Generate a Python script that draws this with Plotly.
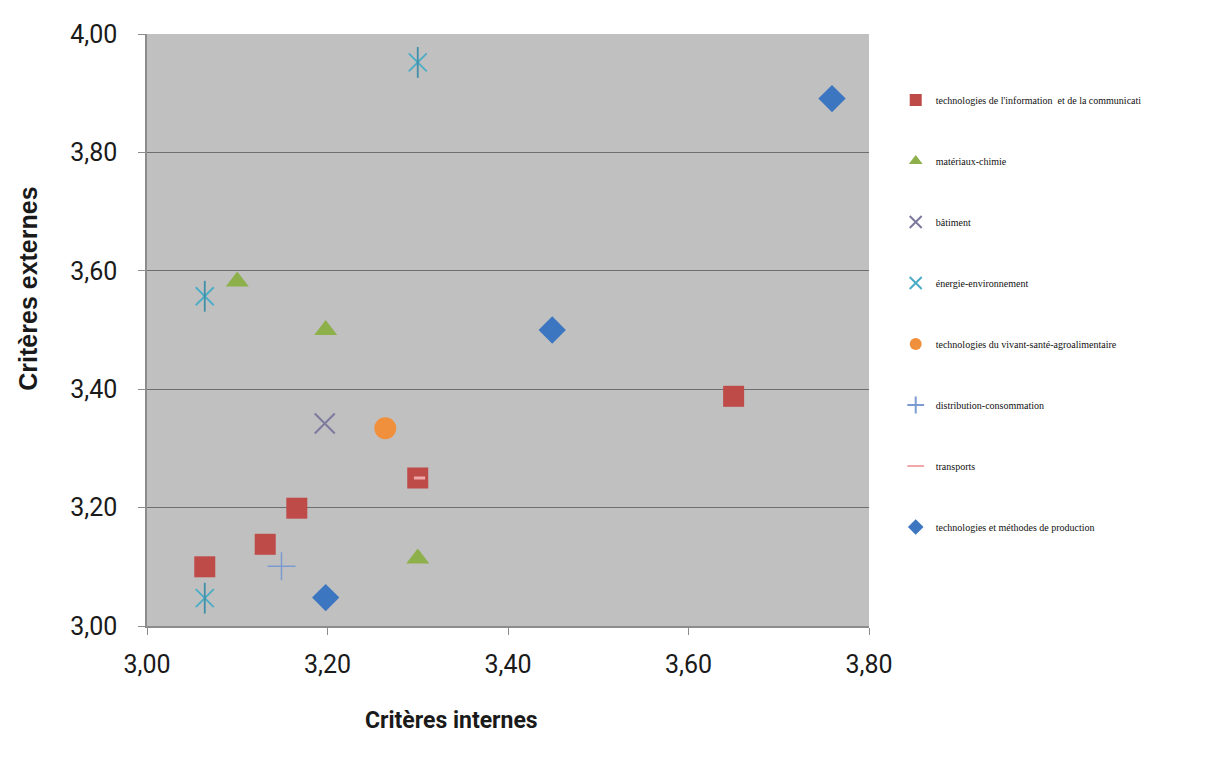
import plotly.graph_objects as go

# Data (Critères internes, Critères externes)
tic_x = [3.064, 3.131, 3.166, 3.300, 3.650]
tic_y = [3.100, 3.138, 3.199, 3.250, 3.388]
mat_x = [3.100, 3.198, 3.300]
mat_y = [3.582, 3.500, 3.114]
bat_x = [3.197]
bat_y = [3.342]
ener_x = [3.300, 3.064, 3.064]
ener_y = [3.952, 3.557, 3.047]
viv_x = [3.264]
viv_y = [3.334]
dist_x = [3.149]
dist_y = [3.101]
trans_x = [3.302]
trans_y = [3.250]
prod_x = [3.759, 3.449, 3.198]
prod_y = [3.891, 3.500, 3.048]

names = [
    "technologies de l'information  et de la communicati",
    "matériaux-chimie",
    "bâtiment",
    "énergie-environnement",
    "technologies du vivant-santé-agroalimentaire",
    "distribution-consommation",
    "transports",
    "technologies et méthodes de production",
]

fig = go.Figure()
fig.add_trace(go.Scatter(x=tic_x, y=tic_y, mode="markers", name=names[0], legendgroup="g1",
                         marker=dict(symbol="square", size=21, color="#be4b48")))
fig.add_trace(go.Scatter(x=mat_x, y=mat_y, mode="markers", name=names[1], legendgroup="g2",
                         marker=dict(symbol="triangle-up", size=20, color="#8db04a")))
fig.add_trace(go.Scatter(x=bat_x, y=bat_y, mode="markers", name=names[2], legendgroup="g3",
                         marker=dict(symbol="x-thin-open", size=20, color="#7d7a9e",
                                     line=dict(color="#7d7a9e", width=2))))
fig.add_trace(go.Scatter(x=ener_x, y=ener_y, mode="markers", name=names[3], legendgroup="g4",
                         marker=dict(symbol="x-thin-open", size=18, color="#4bacc6",
                                     line=dict(color="#4bacc6", width=1.8))))
fig.add_trace(go.Scatter(x=ener_x, y=ener_y, mode="markers", name=names[3], legendgroup="g4",
                         showlegend=False, hoverinfo="skip",
                         marker=dict(symbol="line-ns-open", size=22, color="#3f8fa8",
                                     line=dict(color="#3f8fa8", width=1.8))))
fig.add_trace(go.Scatter(x=viv_x, y=viv_y, mode="markers", name=names[4], legendgroup="g5",
                         marker=dict(symbol="circle", size=22, color="#f0903c")))
fig.add_trace(go.Scatter(x=dist_x, y=dist_y, mode="markers", name=names[5], legendgroup="g6",
                         marker=dict(symbol="cross-thin-open", size=20, color="#7b9bd0",
                                     line=dict(color="#7b9bd0", width=1.5))))
fig.add_trace(go.Scatter(x=trans_x, y=trans_y, mode="markers", name=names[6], legendgroup="g7",
                         marker=dict(symbol="line-ew-open", size=8, color="#f0a8a8",
                                     line=dict(color="#f0a8a8", width=3))))
fig.add_trace(go.Scatter(x=prod_x, y=prod_y, mode="markers", name=names[7], legendgroup="g8",
                         marker=dict(symbol="diamond", size=21, color="#3c76c0")))

axis_common = dict(
    showline=True, linecolor="#8c8c8c", linewidth=1.5, mirror=False,
    ticks="outside", ticklen=7, tickcolor="#8c8c8c",
    tickfont=dict(family="Roboto", size=25, color="#1a1a1a"),
    tickformat=".2f", zeroline=False,
)

fig.update_layout(
    width=1205, height=760,
    paper_bgcolor="white", plot_bgcolor="#c0c0c0",
    separators=",.",
    margin=dict(l=139, r=344, t=24, b=142),
    xaxis=dict(range=[3.0, 3.8], dtick=0.2, showgrid=False, ticklabelstandoff=8,
               **axis_common),
    yaxis=dict(range=[3.0, 4.0], dtick=0.2, showgrid=True, gridcolor="#6e6e6e", gridwidth=1,
               ticklabelstandoff=16,
               **axis_common),
    annotations=[
        dict(text="<b>Critères externes</b>", xref="paper", yref="paper",
             x=-0.166, xanchor="center", y=0.57, yanchor="middle", textangle=-90,
             showarrow=False,
             font=dict(family="Liberation Sans", size=25, color="#1a1a1a")),
        dict(text="<b>Critères internes</b>", xref="paper", yref="paper",
             x=0.422, xanchor="center", y=-0.16, yanchor="middle",
             showarrow=False,
             font=dict(family="Roboto", size=23, color="#1a1a1a")),
    ],
    legend=dict(x=1.037, y=0.913, xanchor="left", yanchor="top",
                font=dict(family="Liberation Serif", size=10, color="#111111"),
                tracegroupgap=42, bgcolor="rgba(0,0,0,0)", itemsizing="constant"),
    showlegend=True,
)

fig.write_html("out.html")
